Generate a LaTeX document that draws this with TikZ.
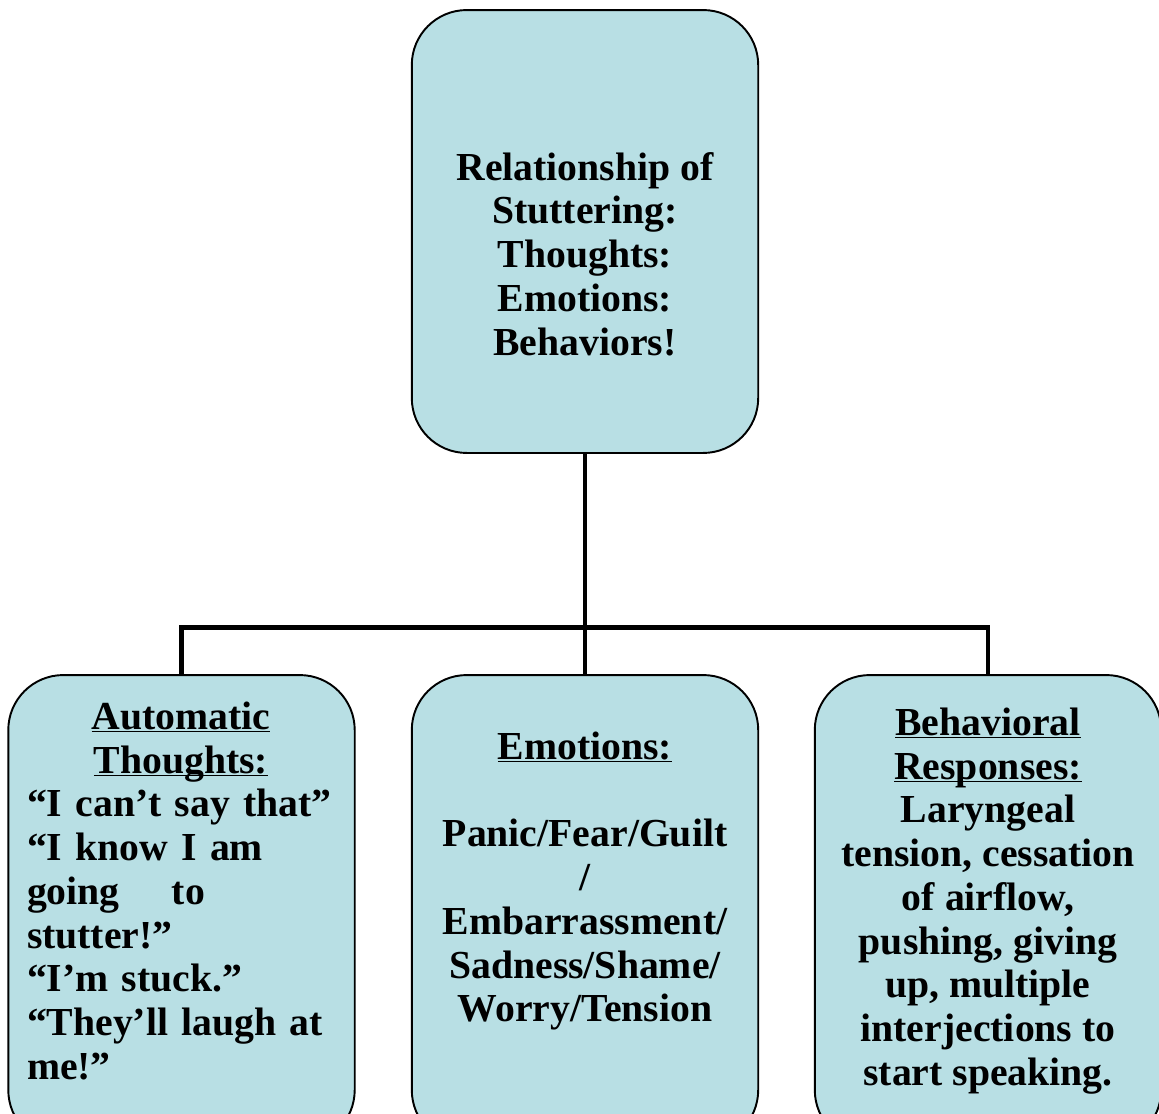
\documentclass[tikz,border=0pt]{standalone}
\usepackage{fontspec}
\setmainfont{Liberation Serif}
\usepackage{tikz}
\newcommand{\subrayar}[1]{\underline{\smash{#1}}}
\definecolor{celeste}{RGB}{184,223,228}
\tikzstyle{caja} = [draw=black, fill=celeste, line width=1.1pt, rectangle, rounded corners=1.1cm, minimum width=6.93cm]
\tikzstyle{texto} = [font=\fontsize{22.6pt}{24.9pt}\selectfont\bfseries, inner sep=0pt]
\tikzstyle{linea} = [line width=2.8pt]

\begin{document}
\begin{tikzpicture}[x=0.02cm, y=-0.02cm]
	\useasboundingbox (0,0) rectangle (1159,1113);
	\clip (0,0) rectangle (1159,1113);
	\node[caja, minimum height=8.86cm](raiz) at (585,231.5) {};
	\node[caja, minimum height=9.4cm](pensamientos) at (181.5,910) {};
	\node[caja, minimum height=9.4cm](emociones) at (585,910) {};
	\node[caja, minimum height=9.4cm](conductas) at (988,910) {};
	\draw[linea] (raiz.south) -- (emociones.north);
	\draw[linea] (pensamientos.north) -- ++(0,-47) -| (conductas.north);
	\node[texto, align=center](titulo) at (585,254) {Relationship of\\Stuttering:\\Thoughts:\\Emotions:\\Behaviors!};
	\node[texto, align=left, text width=6.16cm, anchor=north](listapens) at (181,729) {\makebox[6.16cm]{\subrayar{Automatic}}\\
		\makebox[6.16cm]{\subrayar{Thoughts:}}\\
		“I can’t say that”\\
		“I know I am\\
		going\hspace{0.78cm} to\\
		stutter!”\\
		“I’m stuck.”\\
		“They’ll laugh at\\
		me!”};
	\node[texto, align=center, anchor=north](listaemo) at (585,759) {\subrayar{Emotions:}\\[24.9pt]Panic/Fear/Guilt\\/\\Embarrassment/\\Sadness/Shame/\\Worry/Tension};
	\node[texto, align=center, anchor=north](listacond) at (988,735) {\subrayar{Behavioral}\\\subrayar{Responses:}\\Laryngeal\\tension, cessation\\of airflow,\\pushing, giving\\up, multiple\\interjections to\\start speaking.};
\end{tikzpicture}
\end{document}
